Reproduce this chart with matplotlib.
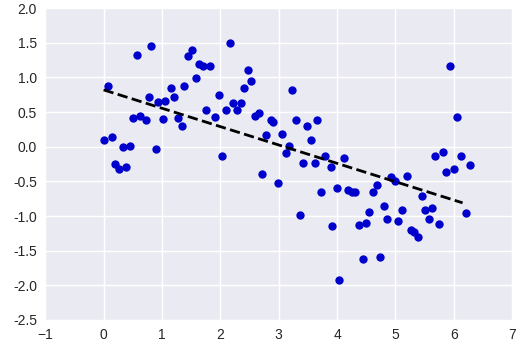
import matplotlib
matplotlib.use("Agg")
import matplotlib.pyplot as plt

# scatter points
x = [0.00, 0.07, 0.14, 0.19, 0.27, 0.33, 0.38, 0.45, 0.51, 0.58,
     0.63, 0.72, 0.77, 0.82, 0.89, 0.94, 1.01, 1.06, 1.15, 1.20,
     1.27, 1.34, 1.37, 1.44, 1.51, 1.58, 1.64, 1.71, 1.76, 1.83,
     1.90, 1.97, 2.02, 2.09, 2.16, 2.21, 2.28, 2.35, 2.41, 2.47,
     2.53, 2.60, 2.67, 2.72, 2.79, 2.86, 2.91, 2.98, 3.05, 3.12,
     3.18, 3.22, 3.29, 3.36, 3.42, 3.49, 3.56, 3.63, 3.66, 3.73,
     3.80, 3.89, 3.92, 3.99, 4.04, 4.11, 4.18, 4.25, 4.30, 4.37,
     4.45, 4.49, 4.55, 4.61, 4.68, 4.74, 4.81, 4.86, 4.93, 5.00,
     5.05, 5.12, 5.19, 5.26, 5.31, 5.38, 5.45, 5.50, 5.57, 5.63,
     5.68, 5.75, 5.82, 5.87, 5.94, 6.01, 6.06, 6.13, 6.20, 6.27]
y = [0.09, 0.87, 0.14, -0.25, -0.32, 0.00, -0.30, 0.01, 0.42, 1.33,
     0.45, 0.39, 0.72, 1.46, -0.04, 0.65, 0.40, 0.66, 0.84, 0.71,
     0.42, 0.30, 0.88, 1.31, 1.40, 0.99, 1.20, 1.17, 0.53, 1.17,
     0.43, 0.75, -0.13, 0.53, 1.50, 0.63, 0.53, 0.63, 0.84, 1.11,
     0.95, 0.45, 0.49, -0.39, 0.17, 0.38, 0.35, -0.53, 0.19, -0.09,
     0.01, 0.82, 0.38, -0.98, -0.23, 0.30, 0.09, -0.23, 0.38, -0.65,
     -0.13, -0.30, -1.14, -0.59, -1.93, -0.17, -0.63, -0.65, -0.66, -1.13,
     -1.62, -1.10, -0.94, -0.65, -0.55, -1.59, -0.85, -1.04, -0.43, -0.49,
     -1.07, -0.91, -0.42, -1.20, -1.23, -1.31, -0.71, -0.91, -1.04, -0.89,
     -0.14, -1.11, -0.07, -0.36, 1.17, -0.32, 0.43, -0.13, -0.95, -0.27]

# fitted trend line end points
fit_x = [0.0, 6.15]
fit_y = [0.82, -0.81]

plt.rcParams['font.family'] = ['Liberation Sans', 'DejaVu Sans']

fig = plt.figure(figsize=(5.2, 3.52), dpi=100)
ax = fig.add_axes([0.087, 0.091, 0.898, 0.886])
ax.set_facecolor('#EAEAF2')
ax.grid(True, color='white', linewidth=1.0)
ax.set_axisbelow(True)
for s in ax.spines.values():
    s.set_visible(False)

ax.plot(x, y, 'o', color='#0000CC', markersize=6, markeredgewidth=0)
ax.plot(fit_x, fit_y, '--', color='black', linewidth=2)

ax.set_xlim(-1, 7)
ax.set_ylim(-2.5, 2.0)
ax.set_xticks(range(-1, 8))
ax.set_yticks([-2.5, -2.0, -1.5, -1.0, -0.5, 0.0, 0.5, 1.0, 1.5, 2.0])
ax.set_yticklabels(['%.1f' % v for v in ax.get_yticks()])
ax.tick_params(length=0, labelsize=10, colors='#262626', pad=6)

fig.savefig('out.png', dpi=100)
